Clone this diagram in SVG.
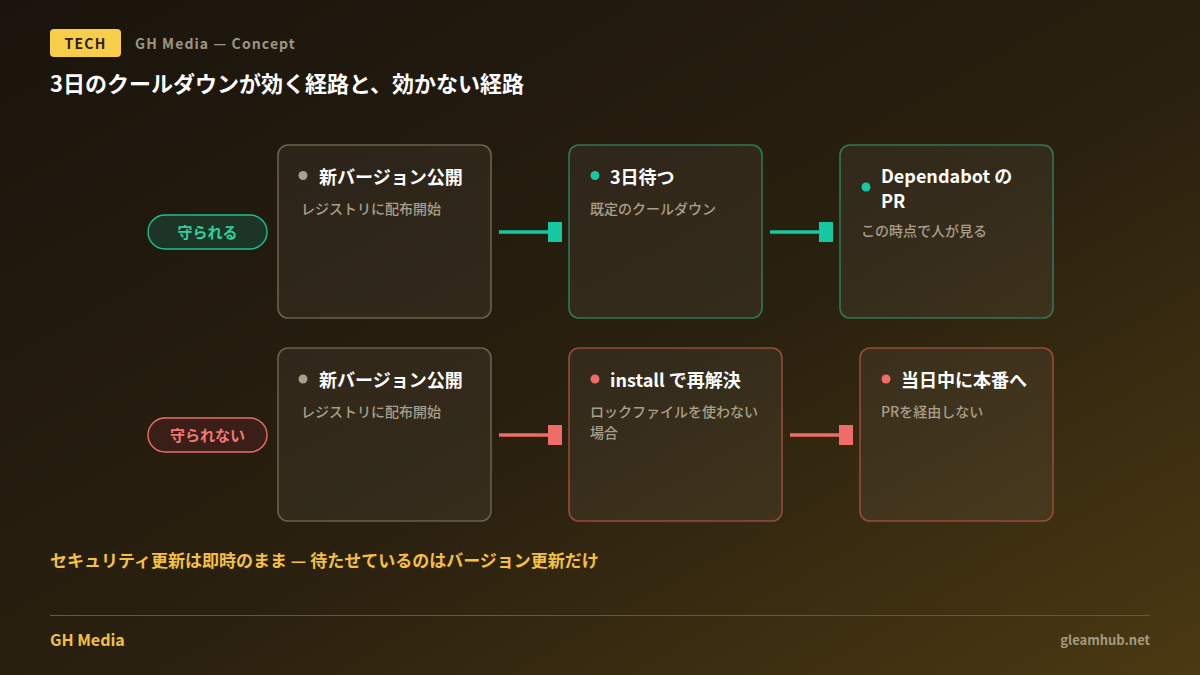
<svg xmlns="http://www.w3.org/2000/svg" width="1200" height="675" viewBox="0 0 1200 675">
<defs>
<linearGradient id="bg" x1="0" y1="0" x2="1" y2="1">
<stop offset="0" stop-color="#1a140c"/>
<stop offset="0.55" stop-color="#2a200f"/>
<stop offset="1" stop-color="#4a3912"/>
</linearGradient>
<style>
text{font-family:"Noto Sans CJK JP","Noto Sans",sans-serif}
.node{fill:#ffffff;fill-opacity:0.05;stroke-width:1.6}
.n{stroke:#6b604a}
.g{stroke:#2c7857}
.r{stroke:#98493b}
.t{fill:#ffffff;font-size:18px;font-weight:700}
.s{fill:#a99f8a;font-size:14px;font-weight:500}
.lg{stroke:#14c9a0;stroke-width:3.5}
.lr{stroke:#f06c68;stroke-width:3.5}
</style>
</defs>
<rect width="1200" height="675" fill="url(#bg)"/>
<g id="header">
<rect x="50" y="29" width="71" height="28" rx="4" fill="#f8cd4a"/>
<text x="85.5" y="48.5" text-anchor="middle" font-size="14" font-weight="700" fill="#2a200c" letter-spacing="1.2">TECH</text>
<text x="135" y="49" font-size="14" font-weight="700" fill="#9c9582" letter-spacing="1.1">GH Media — Concept</text>
<text x="50" y="92" font-size="22" font-weight="700" fill="#ffffff">3日のクールダウンが効く経路と、効かない経路</text>
</g>
<g id="pill-safe">
<rect x="148" y="215" width="119" height="34" rx="17" fill="#1d3527" stroke="#1fbf8f" stroke-width="1.4"/>
<text x="207.5" y="237.5" text-anchor="middle" font-size="15" font-weight="700" fill="#2bd3a0">守られる</text>
</g>
<g id="pill-unsafe">
<rect x="148" y="418" width="119" height="34" rx="17" fill="#3a1e18" stroke="#e8706a" stroke-width="1.4"/>
<text x="207.5" y="440.5" text-anchor="middle" font-size="15" font-weight="700" fill="#f07a72">守られない</text>
</g>
<g id="connectors">
<line x1="499" y1="232" x2="549" y2="232" class="lg"/>
<rect x="548" y="222" width="14" height="20" fill="#14c9a0"/>
<line x1="770" y1="232" x2="820" y2="232" class="lg"/>
<rect x="819" y="222" width="14" height="20" fill="#14c9a0"/>
<line x1="499" y1="435" x2="549" y2="435" class="lr"/>
<rect x="548" y="425" width="14" height="20" fill="#f06c68"/>
<line x1="790" y1="435" x2="840" y2="435" class="lr"/>
<rect x="839" y="425" width="14" height="20" fill="#f06c68"/>
</g>
<g id="node-a1">
<rect x="278" y="145" width="213" height="173" rx="10" class="node n"/>
<circle cx="303" cy="175.5" r="4.5" fill="#aaa08a"/>
<text x="319" y="184" class="t">新バージョン公開</text>
<text x="301" y="214" class="s">レジストリに配布開始</text>
</g>
<g id="node-a2">
<rect x="569" y="145" width="193" height="173" rx="10" class="node g"/>
<circle cx="595" cy="175.5" r="4.5" fill="#14c9a0"/>
<text x="610" y="184" class="t">3日待つ</text>
<text x="590" y="214" class="s">既定のクールダウン</text>
</g>
<g id="node-a3">
<rect x="840" y="145" width="213" height="173" rx="10" class="node g"/>
<circle cx="866" cy="187" r="4.5" fill="#14c9a0"/>
<text x="881" y="183" class="t">Dependabot の</text>
<text x="881" y="207.5" class="t">PR</text>
<text x="861" y="236" class="s">この時点で人が見る</text>
</g>
<g id="node-b1">
<rect x="278" y="348" width="213" height="173" rx="10" class="node n"/>
<circle cx="303" cy="379" r="4.5" fill="#aaa08a"/>
<text x="319" y="387" class="t">新バージョン公開</text>
<text x="301" y="417" class="s">レジストリに配布開始</text>
</g>
<g id="node-b2">
<rect x="569" y="348" width="213" height="173" rx="10" class="node r"/>
<circle cx="595" cy="379" r="4.5" fill="#f06c68"/>
<text x="610" y="387" class="t">install で再解決</text>
<text x="590" y="417" class="s">ロックファイルを使わない</text>
<text x="590" y="438" class="s">場合</text>
</g>
<g id="node-b3">
<rect x="860" y="348" width="193" height="173" rx="10" class="node r"/>
<circle cx="886" cy="379" r="4.5" fill="#f06c68"/>
<text x="901" y="387" class="t">当日中に本番へ</text>
<text x="881" y="417" class="s">PRを経由しない</text>
</g>
<g id="footer">
<text x="50" y="567" font-size="17" font-weight="700" fill="#f3c13f">セキュリティ更新は即時のまま — 待たせているのはバージョン更新だけ</text>
<line x1="50" y1="615.5" x2="1150" y2="615.5" stroke="#6b5a22" stroke-width="1"/>
<text x="50" y="646" font-size="16" font-weight="700" fill="#f3c13f">GH Media</text>
<text x="1150" y="645" text-anchor="end" font-size="13" font-weight="700" fill="#a39a84">gleamhub.net</text>
</g>
</svg>
